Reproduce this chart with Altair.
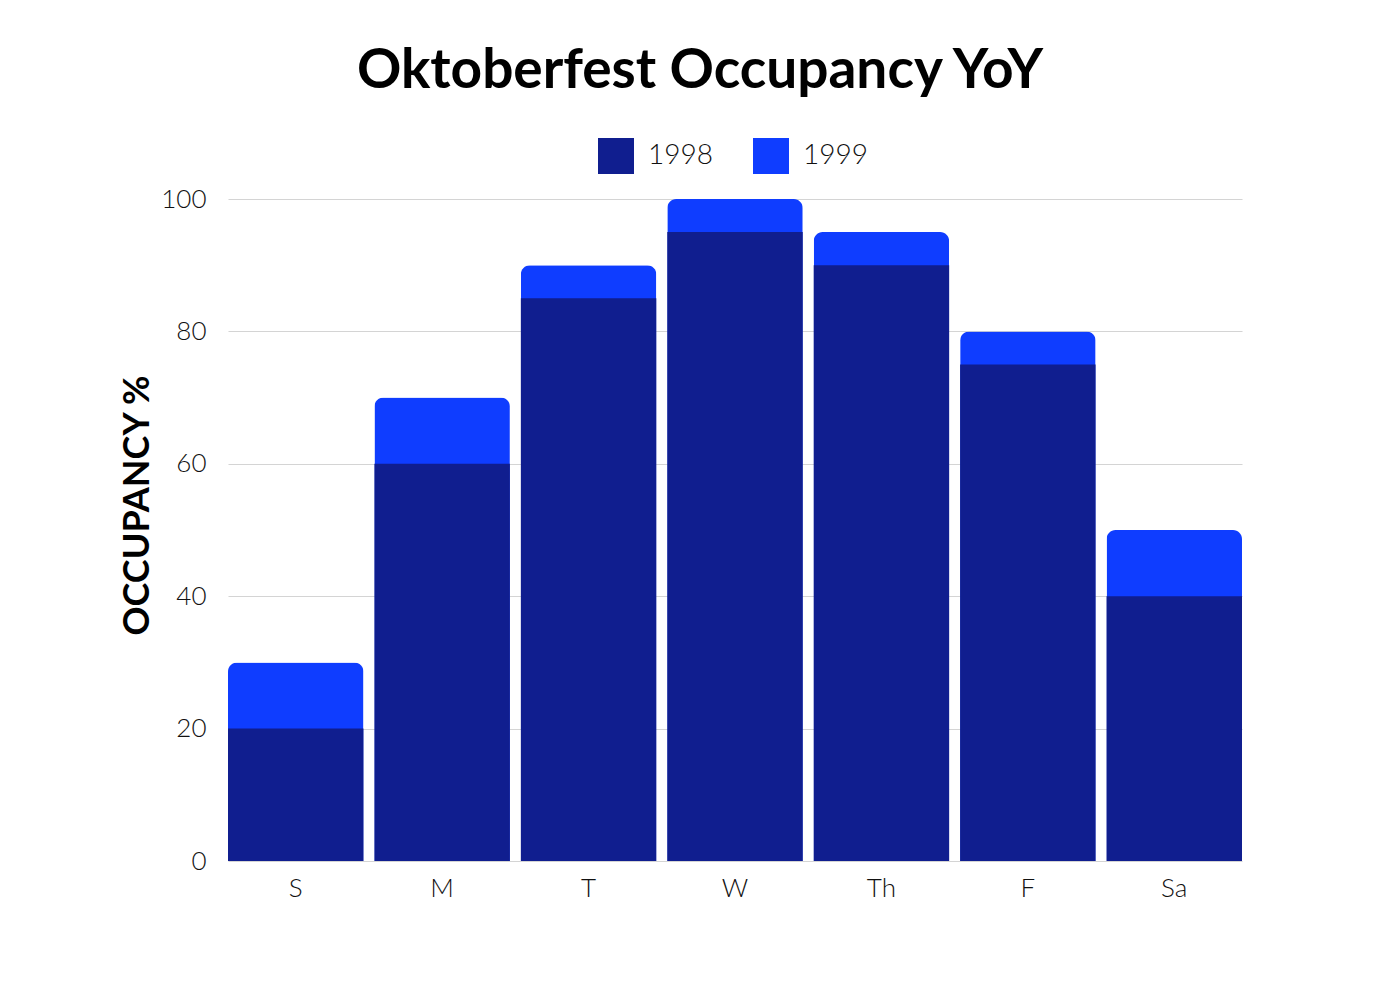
import altair as alt
import pandas as pd

days = ["S", "M", "T", "W", "Th", "F", "Sa"]
occ_1998 = [20, 60, 85, 95, 90, 75, 40]
occ_1999 = [30, 70, 90, 100, 95, 80, 50]
years = ["1998", "1999"]
colors = ["#101E8F", "#0F3DFF"]

df98 = pd.DataFrame({"day": days, "value": occ_1998, "year": "1998"})
df99 = pd.DataFrame({"day": days, "value": occ_1999, "year": "1999"})

FONT = "Lato"

x = alt.X("day:N", sort=days,
          scale=alt.Scale(paddingInner=0.075, paddingOuter=0),
          axis=alt.Axis(title=None, labelAngle=0, labelFontSize=26, labelFont=FONT,
                        labelFontWeight=300,
                        labelColor="#111111", labelPadding=14, ticks=False,
                        domain=False, grid=False))
y = alt.Y("value:Q", scale=alt.Scale(domain=[0, 100]),
          axis=alt.Axis(title="OCCUPANCY %", values=[0, 20, 40, 60, 80, 100],
                        labelFontSize=26, labelFont=FONT, labelColor="#111111",
                        labelFontWeight=300,
                        labelPadding=22, ticks=False, domain=False,
                        gridColor="#d4d4d4", gridWidth=1.2,
                        titleFont=FONT, titleFontSize=36, titleFontWeight="bold",
                        titleColor="#000000", titleAngle=-90, titleX=-91, titleY=306,
                        titleAlign="center", titleBaseline="middle"))
color = alt.Color("year:N", scale=alt.Scale(domain=years, range=colors),
                  legend=alt.Legend(title=None, orient="none", direction="horizontal",
                                    legendX=370, legendY=-61,
                                    symbolType="square", symbolSize=1296,
                                    symbolStrokeWidth=0, labelFontSize=28,
                                    labelFont=FONT, labelFontWeight=300,
                                    labelColor="#111111",
                                    labelOffset=14, columnPadding=40))

bars99 = alt.Chart(df99).mark_bar(cornerRadiusTopLeft=9, cornerRadiusTopRight=9).encode(
    x=x, y=y, color=color)
bars98 = alt.Chart(df98).mark_bar().encode(x=x, y=y, color=color)

chart = alt.layer(bars99, bars98).properties(
    width=1014, height=662,
    title=alt.Title("Oktoberfest Occupancy YoY", font=FONT, fontSize=55,
                    fontWeight="bold", color="#000000", anchor="middle",
                    offset=38, dx=-35),
    autosize=alt.AutoSizeParams(type="none"),
    padding={"left": 220, "top": 191, "right": 150, "bottom": 130},
    background="white",
).configure_view(stroke=None)

chart.save("out.html", embed_options={"renderer": "svg", "actions": False})
